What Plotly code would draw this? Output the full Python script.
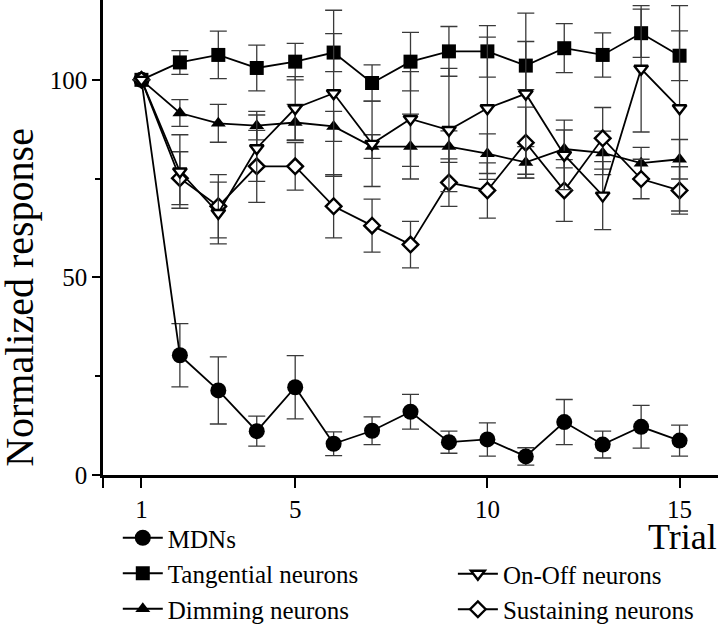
import plotly.graph_objects as go

trials = list(range(1, 16))

mdn = [100, 30.3, 21.4, 11.1, 22.2, 7.9, 11.2, 16.0, 8.3, 9.0, 4.7, 13.4, 7.7, 12.2, 8.7]
mdn_err = [None, 8, 8.5, 3.8, 8, 3, 3.5, 4.4, 2.8, 4.2, 2.2, 5.7, 3.4, 5.4, 3.9]

tang = [100, 104.4, 106.3, 103.0, 104.6, 106.9, 99.2, 104.6, 107.2, 107.2, 103.6, 108.0, 106.3, 111.8, 106.1]
tang_err = [None, 3, 6, 5.8, 4.6, 4.8, 4.6, 7.4, 6.3, 6.5, 6.1, 6.2, 5.6, 6.1, 6.3]

onoff = [100, 76.8, 66.3, 82.7, 92.8, 96.6, 83.8, 90.1, 87.3, 92.8, 96.5, 81.0, 70.7, 102.8, 92.8]
onoff_err = [None, 9.3, 7.8, 8.4, 8, 21, 10.8, 12, 15.6, 18, 20.4, 8.8, 8.6, 16, 26]

dimming = [100, 91.6, 89.0, 88.4, 89.2, 88.2, 83.1, 83.1, 83.1, 81.3, 79.1, 82.5, 81.5, 78.9, 79.9]
dimming_err = [None, 3.4, 4.8, 3.6, 4.6, 3.8, 3, 8.2, 4, 5, 4, 4.8, 5.5, 4, 5]

sustain = [100, 75.1, 68.0, 78.1, 78.1, 68.0, 63.1, 58.3, 74.0, 72.0, 84.1, 72.0, 85.2, 74.9, 72.0]
sustain_err = [None, 6.7, 8, 9.1, 6, 8, 6.7, 5.9, 6, 7, 9, 7.8, 7.8, 5, 6]

x_tickvals = [0, 1, 5, 10, 15]
x_ticktext = ["", "1", "5", "10", "15"]
y_tickvals = [0, 50, 100]

FONT = "Times New Roman, DejaVu Serif"
err_style = dict(type="data", visible=True, color="#3a3a3a", thickness=1.3, width=8.5)

def series(name, y, err, symbol, size, fill, legend):
    return go.Scatter(
        x=trials, y=y, name=name, mode="lines+markers",
        line=dict(color="black", width=1.8),
        marker=dict(symbol=symbol, size=size, color=fill,
                    line=dict(color="black", width=2.4 if fill == "white" else 0)),
        error_y=dict(array=err, **err_style),
        legend=legend,
    )

fig = go.Figure()
fig.add_trace(series("MDNs", mdn, mdn_err, "circle", 16, "black", "legend"))
fig.add_trace(series("Tangential neurons", tang, tang_err, "square", 14, "black", "legend"))
fig.add_trace(series("Dimming neurons", dimming, dimming_err, "triangle-up", 13, "black", "legend"))
fig.add_trace(series("Sustaining neurons", sustain, sustain_err, "diamond", 12, "white", "legend2"))
fig.add_trace(series("On-Off neurons", onoff, onoff_err, "triangle-down", 12, "white", "legend2"))

fig.update_layout(
    width=720, height=626,
    margin=dict(l=103, r=2, t=0, b=151, autoexpand=False),
    paper_bgcolor="white", plot_bgcolor="white",
    font=dict(family=FONT, color="black"),
    showlegend=True,
    legend=dict(xref="container", yref="container", x=0.1636, y=0.1773,
                xanchor="left", yanchor="top",
                font=dict(family=FONT, size=25, color="black"),
                bgcolor="rgba(0,0,0,0)", traceorder="normal", itemwidth=40,
                tracegroupgap=0),
    legend2=dict(xref="container", yref="container", x=0.629, y=0.1198,
                 xanchor="left", yanchor="top",
                 font=dict(family=FONT, size=25, color="black"),
                 bgcolor="rgba(0,0,0,0)", traceorder="reversed", itemwidth=40,
                 tracegroupgap=0),
    xaxis=dict(range=[0, 16], tickvals=x_tickvals, ticktext=x_ticktext,
               showgrid=False, zeroline=False, showline=True, linecolor="black",
               linewidth=2.5, ticks="outside", ticklen=10, tickwidth=2,
               tickcolor="black", tickfont=dict(family=FONT, size=25),
               automargin=False),
    yaxis=dict(range=[0, 120.2], tickvals=y_tickvals,
               showgrid=False, zeroline=False, showline=True, linecolor="black",
               linewidth=2.5, ticks="outside", ticklen=8, tickwidth=2,
               tickcolor="black", tickfont=dict(family=FONT, size=25),
               automargin=False,
               minor=dict(tickvals=[25, 75], ticks="outside", ticklen=5,
                          tickwidth=2, tickcolor="black", showgrid=False)),
    annotations=[
        dict(text="Normalized response", textangle=-90, xref="paper", yref="paper",
             x=-0.135, y=0.375, xanchor="center", yanchor="middle", showarrow=False,
             font=dict(family=FONT, size=40, color="black")),
        dict(text="Trial", xref="paper", yref="paper",
             x=0.9415, y=-0.13, xanchor="center", yanchor="middle", showarrow=False,
             font=dict(family=FONT, size=36, color="black")),
    ],
)

fig.write_html("out.html", config={"displayModeBar": False},
               post_script="document.body.style.margin='0';")
